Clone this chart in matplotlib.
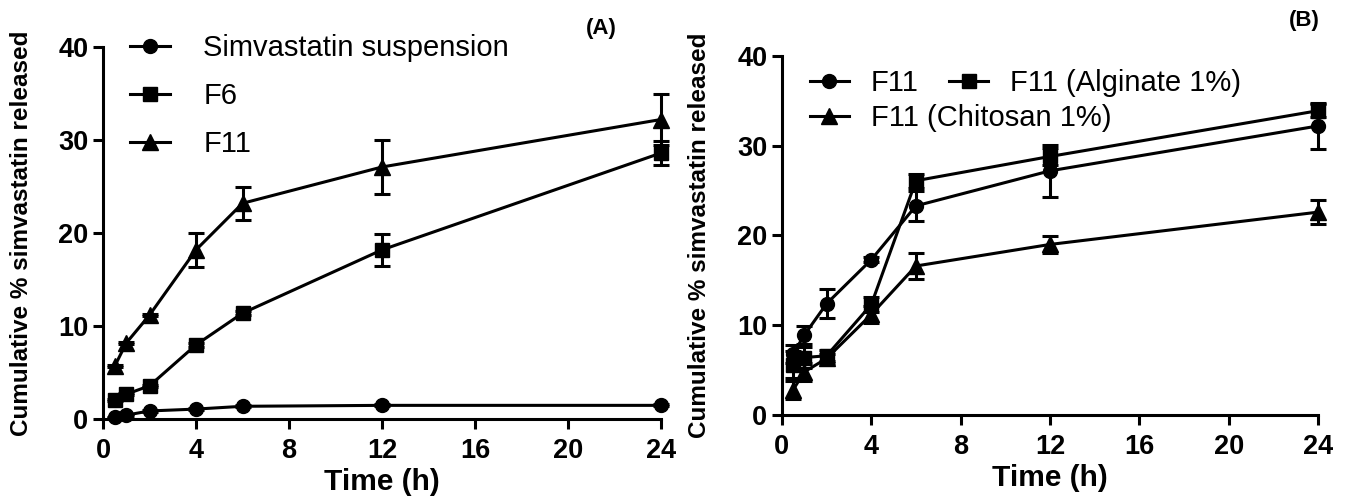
import matplotlib
matplotlib.use("Agg")
import matplotlib.pyplot as plt
from matplotlib.lines import Line2D

plt.rcParams['font.family'] = ['Liberation Sans', 'DejaVu Sans']

# sampling times (h)
time_h = [0.5, 1, 2, 4, 6, 12, 24]

# panel A
susp = [0.2, 0.45, 0.9, 1.1, 1.4, 1.5, 1.5]
susp_err = [0.1, 0.1, 0.1, 0.1, 0.1, 0.1, 0.1]
f6 = [2.1, 2.7, 3.6, 8.0, 11.4, 18.2, 28.6]
f6_err = [0.1, 0.1, 0.1, 0.2, 0.2, 1.7, 1.3]
f11 = [5.7, 8.2, 11.2, 18.2, 23.2, 27.1, 32.2]
f11_err = [0.1, 0.1, 0.1, 1.8, 1.8, 2.9, 2.7]

# panel B
b_f11 = [6.8, 8.9, 12.4, 17.3, 23.3, 27.2, 32.2]
b_f11_err = [1.0, 1.0, 1.6, 0.3, 1.7, 2.9, 2.6]
alginate = [5.6, 6.4, 6.6, 12.3, 26.1, 28.8, 33.9]
alginate_err = [1.5, 1.2, 0.6, 0.8, 0.8, 1.0, 0.7]
chitosan = [2.8, 4.8, 6.3, 11.2, 16.6, 19.0, 22.6]
chitosan_err = [1.0, 1.0, 0.5, 0.9, 1.4, 0.9, 1.3]

xticks = [0, 4, 8, 12, 16, 20, 24]
yticks = [0, 10, 20, 30, 40]

LW = 2.2
MS = {'o': 10, 's': 10.5, '^': 11}


def series(ax, y, err, marker, label):
    ax.errorbar(time_h, y, yerr=err, color='black', lw=LW, marker=marker,
                ms=MS[marker], capsize=5.5, capthick=LW, elinewidth=LW,
                label=label, clip_on=False, zorder=3)


def style(ax, ylab_x):
    ax.set_xlim(0, 24)
    ax.set_ylim(0, 40)
    ax.set_xticks(xticks)
    ax.set_yticks(yticks)
    for s in ('top', 'right'):
        ax.spines[s].set_visible(False)
    for s in ('left', 'bottom'):
        ax.spines[s].set_linewidth(LW)
    ax.tick_params(length=7.5, width=LW, labelsize=19.5)
    ax.tick_params(axis='y', pad=3)
    ax.tick_params(axis='x', pad=6)
    for t in ax.get_xticklabels() + ax.get_yticklabels():
        t.set_fontweight('bold')
    ax.set_xlabel('Time (h)', fontsize=21.5, fontweight='bold', labelpad=3)
    ax.set_ylabel('Cumulative % simvastatin released', fontsize=17.5,
                  fontweight='bold')
    ax.yaxis.set_label_coords(ylab_x, 0.5)


def handle(marker):
    return Line2D([], [], color='black', lw=LW, marker=marker, ms=MS[marker])


fig = plt.figure(figsize=(13.47, 5.04), dpi=100)
axA = fig.add_axes([0.0765, 0.168, 0.4142, 0.739])
axB = fig.add_axes([0.5805, 0.1766, 0.398, 0.7124])

series(axA, susp, susp_err, 'o', 'Simvastatin suspension')
series(axA, f6, f6_err, 's', 'F6')
series(axA, f11, f11_err, '^', 'F11')
style(axA, -0.125)
axA.legend(handles=[handle('o'), handle('s'), handle('^')],
           labels=['Simvastatin suspension', 'F6', 'F11'],
           loc='upper left', bbox_to_anchor=(0.028, 1.065), frameon=False,
           fontsize=21, handlelength=1.35, handletextpad=1.15,
           labelspacing=0.68, borderaxespad=0)
axA.text(0.865, 1.05, '(A)', transform=axA.transAxes, fontsize=16,
         fontweight='bold', ha='left', va='center')

series(axB, b_f11, b_f11_err, 'o', 'F11')
series(axB, alginate, alginate_err, 's', 'F11 (Alginate 1%)')
series(axB, chitosan, chitosan_err, '^', 'F11 (Chitosan 1%)')
style(axB, -0.133)
legB1 = axB.legend(handles=[handle('o'), handle('^')],
                   labels=['F11', 'F11 (Chitosan 1%)'],
                   loc='upper left', bbox_to_anchor=(0.03, 0.995),
                   frameon=False, fontsize=21, handlelength=1.35,
                   handletextpad=0.75, labelspacing=0.22, borderaxespad=0)
axB.add_artist(legB1)
axB.legend(handles=[handle('s')], labels=['F11 (Alginate 1%)'],
           loc='upper left', bbox_to_anchor=(0.29, 0.995), frameon=False,
           fontsize=21, handlelength=1.35, handletextpad=0.75,
           borderaxespad=0)
axB.text(0.945, 1.1, '(B)', transform=axB.transAxes, fontsize=16,
         fontweight='bold', ha='left', va='center')

fig.savefig('out.png', dpi=100)
